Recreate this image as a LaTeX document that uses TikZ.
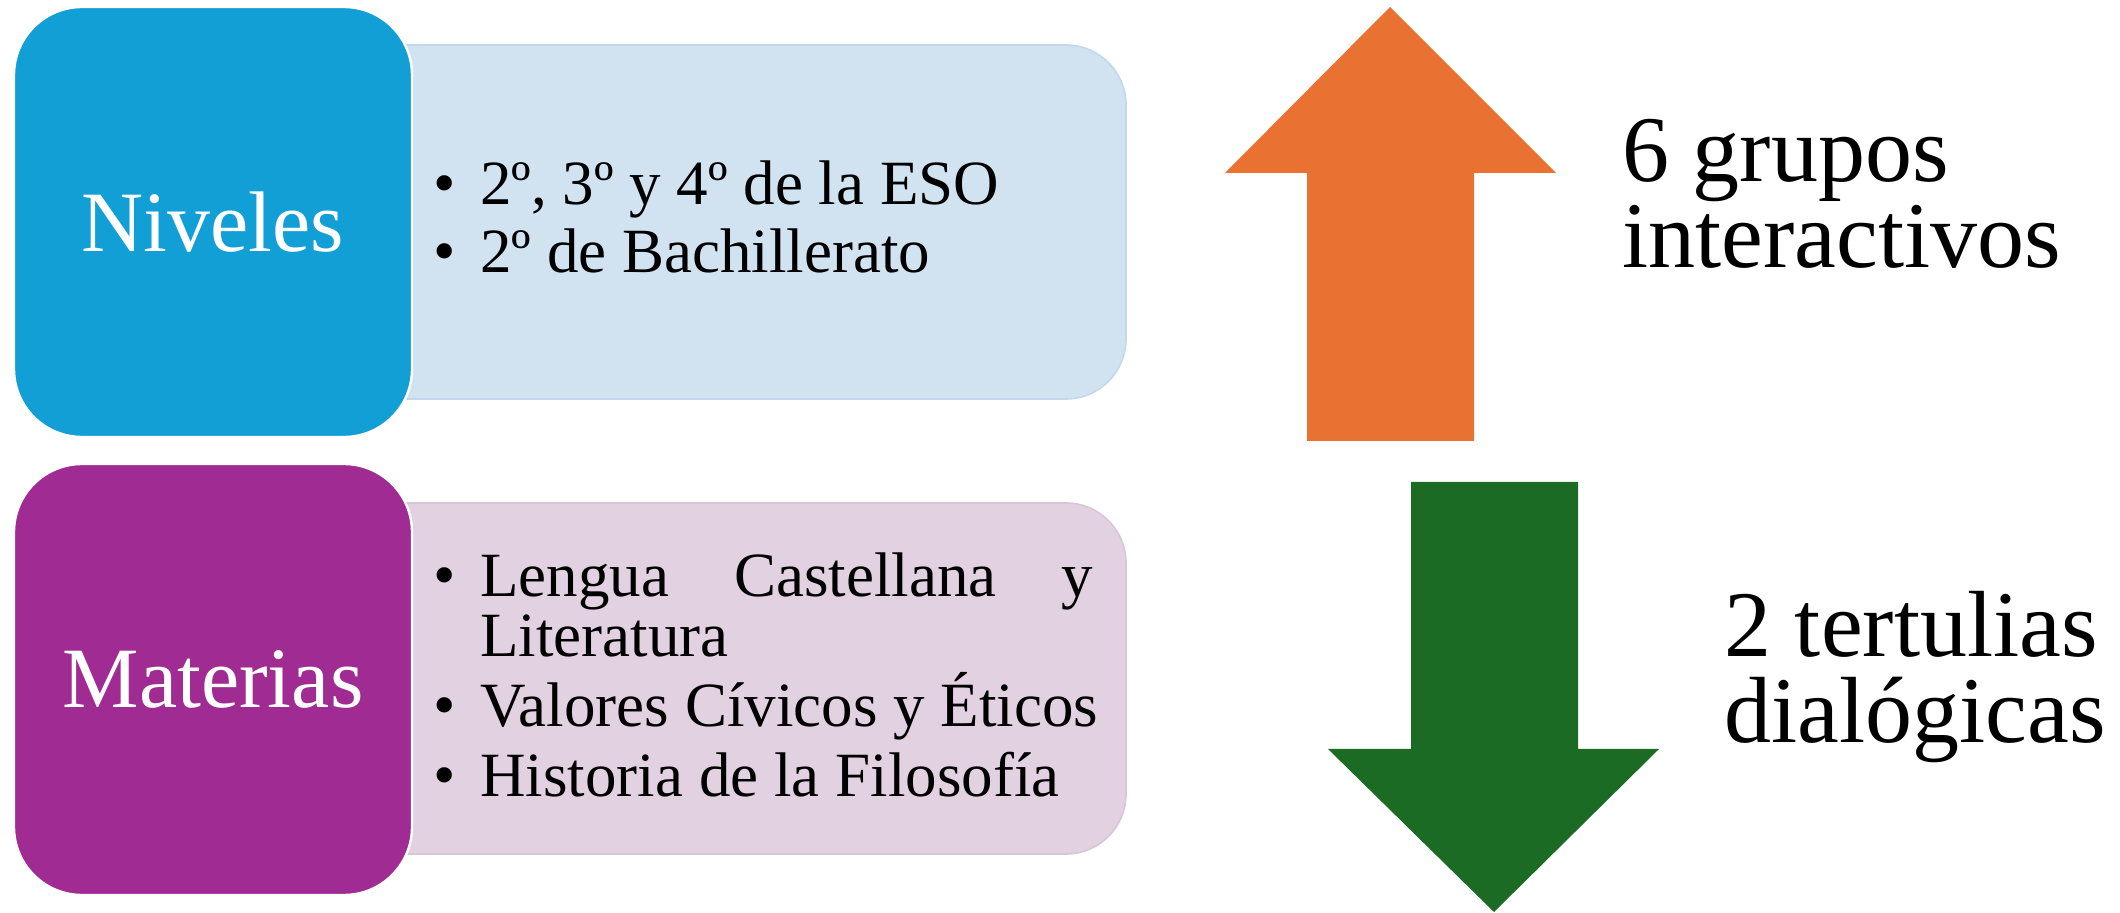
\documentclass[tikz,border=0pt]{standalone}
\usepackage{fontspec}
\setmainfont{Liberation Serif}
\definecolor{nivblue}{HTML}{119FD6}
\definecolor{lightblue}{HTML}{D1E3F1}
\definecolor{lightblueedge}{HTML}{C4D8EC}
\definecolor{matpurple}{HTML}{A02B93}
\definecolor{lightpink}{HTML}{E1D1E1}
\definecolor{lightpinkedge}{HTML}{D8C6D8}
\definecolor{arroworange}{HTML}{E97132}
\definecolor{arrowgreen}{HTML}{1B6B24}
\begin{document}
\begin{tikzpicture}[x=0.5pt,y=-0.5pt,
  darkbox/.style={draw=white, line width=1.2pt, rounded corners=34pt, inner sep=0pt,
    minimum width=199pt, text=white, font=\fontsize{43}{43}\selectfont},
  lightbox/.style={line width=0.8pt, rounded corners=30pt, inner sep=0pt, minimum width=398pt},
  itemtext/.style={anchor=base west, inner sep=0pt, font=\fontsize{31.5}{31.5}\selectfont},
  bullettext/.style={anchor=base west, inner sep=0pt, font=\fontsize{32}{32}\selectfont},
  sidetext/.style={anchor=base west, inner sep=0pt, font=\fontsize{47}{47}\selectfont}]
\useasboundingbox (0,0) rectangle (2120,913);
\fill[white] (0,0) rectangle (2120,913);
% top group
\node[lightbox, fill=lightblue, draw=lightblueedge, minimum height=177pt] (nivlist) at (728,222) {};
\node[darkbox, fill=nivblue, minimum height=215pt] (niv) at (213,222) {Niveles};
\node[bullettext] (b1) at (433,205) {•};
\node[itemtext] (n1) at (480,205) {2º, 3º y 4º de la ESO};
\node[bullettext] (b2) at (433,273) {•};
\node[itemtext] (n2) at (480,273) {2º de Bachillerato};
% bottom group
\node[lightbox, fill=lightpink, draw=lightpinkedge, minimum height=175.5pt] (matlist) at (728,678.5) {};
\node[darkbox, fill=matpurple, minimum height=215.5pt] (mat) at (213,679.5) {Materias};
\node[bullettext] (b3) at (433,597) {•};
\node[itemtext] (m1) at (480,597) {\makebox[306.5pt][s]{Lengua Castellana y}};
\node[itemtext] (m1b) at (480,657) {Literatura};
\node[bullettext] (b4) at (433,727) {•};
\node[itemtext] (m2) at (480,727) {Valores Cívicos y Éticos};
\node[bullettext] (b5) at (433,797) {•};
\node[itemtext] (m3) at (480,797) {Historia de la Filosofía};
% arrows
\fill[arroworange] (1390,7) -- (1556,173) -- (1474,173) -- (1474,441) -- (1307,441) -- (1307,173) -- (1225,173) -- cycle;
\fill[arrowgreen] (1411,482) -- (1578,482) -- (1578,749) -- (1659,749) -- (1494,912) -- (1328,749) -- (1411,749) -- cycle;
% side texts
\node[sidetext] (g1) at (1622,182) {6 grupos};
\node[sidetext] (g2) at (1622,268) {interactivos};
\node[sidetext] (t1) at (1724,657) {2 tertulias};
\node[sidetext] (t2) at (1724,743) {dialógicas};
\end{tikzpicture}
\end{document}
